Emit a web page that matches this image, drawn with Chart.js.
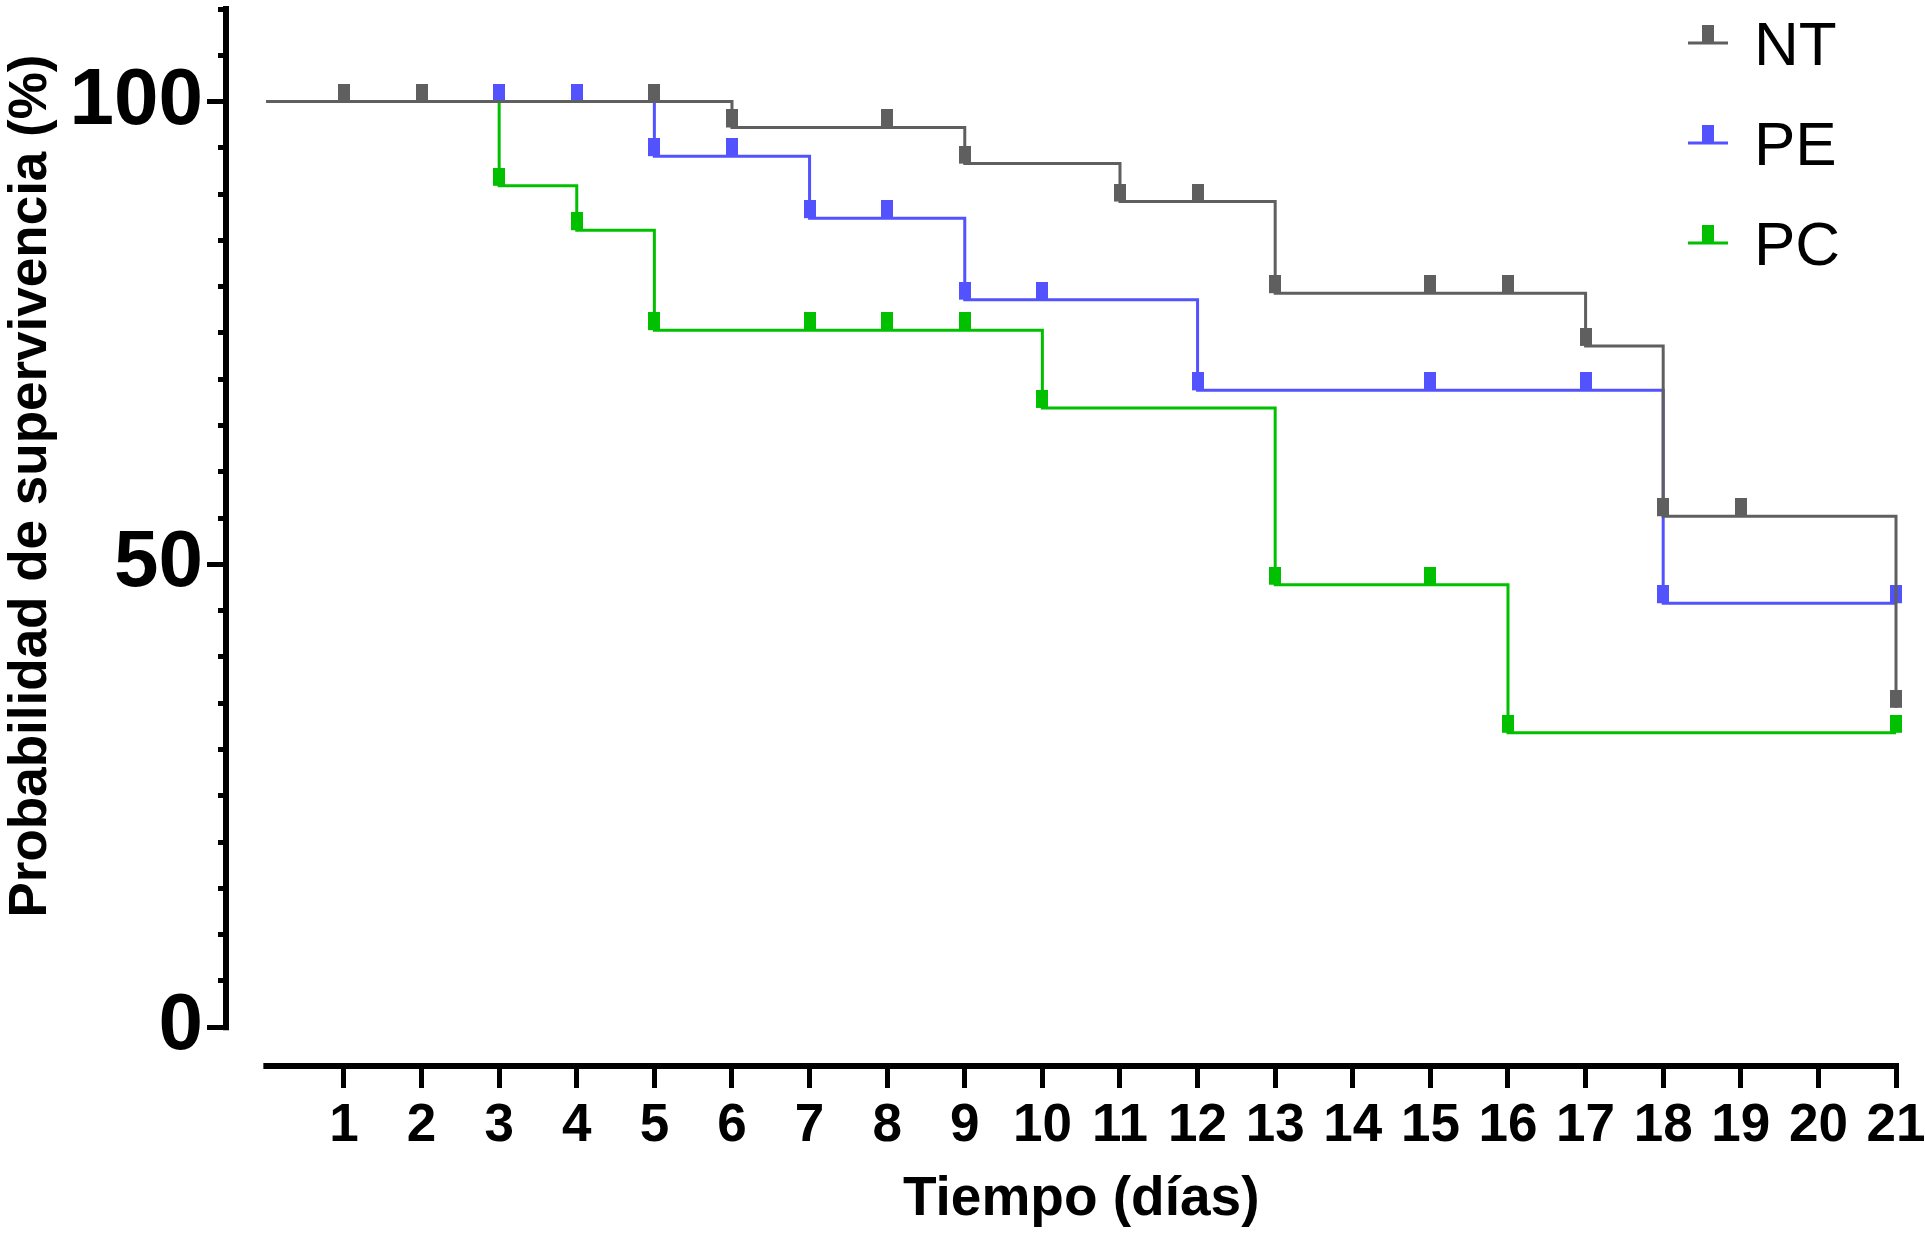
<!DOCTYPE html>
<html lang="es">
<head>
<meta charset="utf-8">
<title>Probabilidad de supervivencia</title>
<script src="https://cdn.jsdelivr.net/npm/chart.js@4.4.1/dist/chart.umd.min.js"></script>
<style>
  html, body { margin: 0; padding: 0; background: #fff; }
  #wrap { position: relative; width: 1925px; height: 1236px; }
</style>
</head>
<body>
<div id="wrap"><canvas id="km"></canvas></div>
<script>
// ── datos (Kaplan-Meier, % de supervivencia)
const groups = ["NT", "PE", "PC"];
const colors = ["#5f5f5f", "#5252ff", "#00c000"];

const ntDays = [0, 1, 2, 5, 6, 8, 9, 11, 12, 13, 15, 16, 17, 18, 19, 21];
const ntSurv = [100, 100, 100, 100, 97.2, 97.2, 93.3, 89.2, 89.2, 79.3, 79.3, 79.3, 73.6, 55.2, 55.2, 34.5];

const peDays = [0, 3, 4, 5, 6, 7, 8, 9, 10, 12, 15, 17, 18, 21];
const peSurv = [100, 100, 100, 94.1, 94.1, 87.4, 87.4, 78.6, 78.6, 68.8, 68.8, 68.8, 45.8, 45.8];

const pcDays = [0, 3, 4, 5, 7, 8, 9, 10, 13, 15, 16, 21];
const pcSurv = [100, 90.9, 86.1, 75.3, 75.3, 75.3, 75.3, 66.9, 47.8, 47.8, 31.8, 31.8];

const dayTicks = [1, 2, 3, 4, 5, 6, 7, 8, 9, 10, 11, 12, 13, 14, 15, 16, 17, 18, 19, 20, 21];
const yTicks = [0, 5, 10, 15, 20, 25, 30, 35, 40, 45, 50, 55, 60, 65, 70, 75, 80, 85, 90, 95, 100, 105, 110];
const yLabels = [0, 50, 100];

const xTitle = "Tiempo (días)";
const yTitle = "Probabilidad de supervivencia (%)";

const FONT = "'Liberation Sans', Arial, Helvetica, sans-serif";
Chart.defaults.font.family = FONT;
Chart.defaults.color = "#000";

// marca de censura: rectángulo que se apoya sobre la línea
function censorMark(color) {
  const c = document.createElement("canvas");
  c.width = 12; c.height = 36;
  const g = c.getContext("2d");
  g.fillStyle = color;
  g.fillRect(0, 0, 12, 18);
  return c;
}

const series = [ntDays, peDays, pcDays].map((days, i) => {
  const surv = [ntSurv, peSurv, pcSurv][i];
  return {
    label: groups[i],
    data: days.map((d, j) => ({ x: d, y: surv[j] })),
    borderColor: colors[i],
    backgroundColor: colors[i],
    borderWidth: 3,
    stepped: true,
    fill: false,
    clip: false,
    pointStyle: censorMark(colors[i]),
    pointRadius: c => (c.dataIndex === 0 ? 0 : 6)
  };
});

// ── ejes separados, leyenda y títulos
const decor = {
  id: "decor",
  afterDraw(chart) {
    const { ctx, chartArea: a, scales: { x, y } } = chart;
    ctx.save();
    ctx.strokeStyle = "#000";
    ctx.lineWidth = 6;
    ctx.lineCap = "square";
    ctx.beginPath();
    ctx.moveTo(a.left, y.getPixelForValue(0));
    ctx.lineTo(a.left, y.getPixelForValue(110));
    ctx.moveTo(x.getPixelForValue(0), a.bottom);
    ctx.lineTo(x.getPixelForValue(21), a.bottom);
    ctx.stroke();

    // leyenda
    ctx.lineCap = "butt";
    chart.data.datasets.forEach((ds, i) => {
      const ly = a.top + 34 + i * 100;
      const lx = a.right - 208;
      ctx.strokeStyle = ds.borderColor;
      ctx.lineWidth = 3;
      ctx.beginPath();
      ctx.moveTo(lx, ly);
      ctx.lineTo(lx + 40, ly);
      ctx.stroke();
      ctx.fillStyle = ds.borderColor;
      ctx.fillRect(lx + 14, ly - 18, 12, 18);
      ctx.fillStyle = "#000";
      ctx.font = "62px " + FONT;
      ctx.textAlign = "left";
      ctx.textBaseline = "alphabetic";
      ctx.fillText(ds.label, a.right - 142, ly + 22);
    });

    // títulos
    ctx.fillStyle = "#000";
    ctx.font = "bold 55px " + FONT;
    ctx.textAlign = "center";
    ctx.textBaseline = "alphabetic";
    ctx.fillText(xTitle, x.getPixelForValue(10.5), 1215);

    ctx.translate(46, 486);
    ctx.rotate(-Math.PI / 2);
    ctx.font = "bold 53px " + FONT;
    ctx.fillText(yTitle, 0, 0);
    ctx.restore();
  }
};

new Chart(document.getElementById("km"), {
  type: "line",
  data: { datasets: series },
  plugins: [decor],
  options: {
    responsive: true,
    maintainAspectRatio: false,
    animation: false,
    events: [],
    layout: { padding: { top: 7, right: 29, left: 0, bottom: 0 } },
    plugins: { legend: { display: false }, tooltip: { enabled: false } },
    scales: {
      x: {
        type: "linear",
        min: -0.52,
        max: 21,
        afterBuildTicks: s => { s.ticks = dayTicks.map(v => ({ value: v })); },
        afterFit: s => { s.height = 170; s.paddingLeft = 0; s.paddingRight = 0; },
        border: { display: false },
        grid: { drawOnChartArea: false, drawTicks: true, tickLength: 22, tickWidth: 5, tickColor: "#000" },
        ticks: { autoSkip: false, maxRotation: 0, padding: 7, color: "#000", font: { size: 53, weight: "bold" } }
      },
      y: {
        type: "linear",
        min: -4.2,
        max: 110,
        afterBuildTicks: s => { s.ticks = yTicks.map(v => ({ value: v })); },
        afterFit: s => { s.width = 226; s.paddingTop = 0; s.paddingBottom = 0; },
        border: { display: false },
        grid: {
          drawOnChartArea: false, drawTicks: true, tickLength: 19, tickWidth: 5, tickColor: "#000",
          tickBorderDash: c => (c.tick && yLabels.includes(c.tick.value) ? [] : [0, 11, 8, 100])
        },
        ticks: {
          autoSkip: false, padding: 4, color: "#000", font: { size: 80, weight: "bold" },
          callback: v => (yLabels.includes(v) ? String(v) : "")
        }
      }
    }
  }
});
</script>
</body>
</html>
